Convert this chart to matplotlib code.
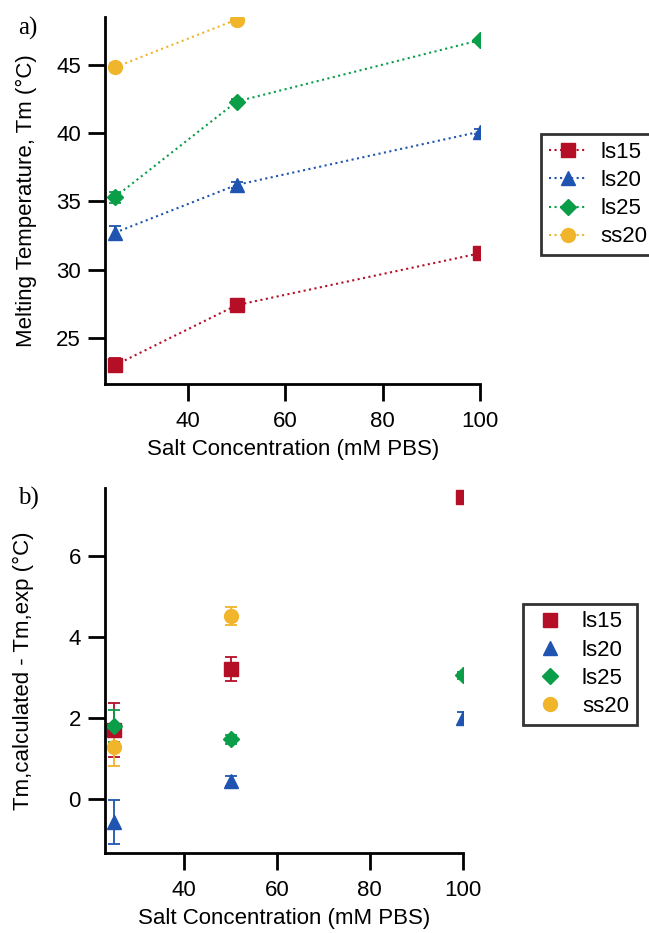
import numpy as np
import matplotlib.pyplot as plt
from matplotlib.lines import Line2D

plt.rcParams['font.family'] = ['Liberation Sans', 'DejaVu Sans']

# ---- data ----
salt = [25, 50, 100]
names = ['ls15', 'ls20', 'ls25', 'ss20']
colors = ['#b50f27', '#1f55b0', '#0a9e48', '#f0b52a']
markers = ['s', '^', 'D', 'o']

# panel a: melting temperature
tm_ls15 = [23.0, 27.4, 31.2]
tm_ls20 = [32.7, 36.2, 40.1]
tm_ls25 = [35.3, 42.3, 46.8]
tm_ss20 = [44.8, 48.3]
tm_err_ls15 = [0.5, 0.2, 0.2]
tm_err_ls20 = [0.5, 0.2, 0.2]
tm_err_ls25 = [0.4, 0.2, 0.1]
tm_err_ss20 = [0.3, 0.1]

# panel b: Tm,calc - Tm,exp
d_ls15 = [1.7, 3.2, 7.45]
d_ls20 = [-0.57, 0.45, 2.0]
d_ls25 = [1.8, 1.47, 3.05]
d_ss20 = [1.27, 4.52]
d_err_ls15 = [0.67, 0.3, 0.15]
d_err_ls20 = [0.55, 0.12, 0.15]
d_err_ls25 = [0.4, 0.12, 0.08]
d_err_ss20 = [0.45, 0.22]

tm = [tm_ls15, tm_ls20, tm_ls25, tm_ss20]
tm_err = [tm_err_ls15, tm_err_ls20, tm_err_ls25, tm_err_ss20]
dd = [d_ls15, d_ls20, d_ls25, d_ss20]
dd_err = [d_err_ls15, d_err_ls20, d_err_ls25, d_err_ss20]

fig = plt.figure(figsize=(6.49, 9.33), dpi=100)
ax1 = fig.add_axes([0.162, 0.588, 0.578, 0.394])
ax2 = fig.add_axes([0.162, 0.086, 0.551, 0.391])

msizes = [9.5, 10, 8.5, 10]

handles_a = []
handles_b = []
for i in range(4):
    y = tm[i]
    x = salt[:len(y)]
    ax1.errorbar(x, y, yerr=tm_err[i], color=colors[i], marker=markers[i],
                 markersize=msizes[i], linestyle=':', linewidth=1.5,
                 capsize=4.3, elinewidth=1.3, capthick=1.3)
    handles_a.append(Line2D([], [], color=colors[i], marker=markers[i],
                            markersize=msizes[i], linestyle=':', linewidth=1.5,
                            label=names[i]))
    y = dd[i]
    x = salt[:len(y)]
    ax2.errorbar(x, y, yerr=dd_err[i], color=colors[i], marker=markers[i],
                 markersize=msizes[i], linestyle='none',
                 capsize=4.3, elinewidth=1.3, capthick=1.3)
    handles_b.append(Line2D([], [], color=colors[i], marker=markers[i],
                            markersize=msizes[i], linestyle='none',
                            label=names[i]))

for ax in (ax1, ax2):
    ax.spines['top'].set_visible(False)
    ax.spines['right'].set_visible(False)
    ax.spines['left'].set_linewidth(2)
    ax.spines['bottom'].set_linewidth(2)
    ax.tick_params(direction='out', length=12.5, width=2, labelsize=16, pad=5)
    ax.tick_params(axis='x', pad=7)
    ax.set_xticks([40, 60, 80, 100])
    ax.set_xlabel('Salt Concentration (mM PBS)', fontsize=16, labelpad=5)

ax1.set_xlim(23, 100)
ax1.set_ylim(21.6, 48.5)
ax1.set_yticks([25, 30, 35, 40, 45])
ax1.set_ylabel('Melting Temperature, Tm (\u00b0C)', fontsize=16, labelpad=14)

ax2.set_xlim(23, 100)
ax2.set_ylim(-1.33, 7.68)
ax2.set_yticks([0, 2, 4, 6])
ax2.set_ylabel('Tm,calculated - Tm,exp (\u00b0C)', fontsize=16, labelpad=25)

leg1 = fig.legend(handles=handles_a, loc='upper left',
                  bbox_to_anchor=(0.834, 0.856), fontsize=16,
                  frameon=True, fancybox=False, edgecolor='black',
                  handlelength=1.7, borderpad=0.35, labelspacing=0.32,
                  handletextpad=0.6, borderaxespad=0)
leg1.get_frame().set_linewidth(2)
leg2 = fig.legend(handles=handles_b, loc='upper left',
                  bbox_to_anchor=(0.806, 0.353), fontsize=16,
                  frameon=True, fancybox=False, edgecolor='black',
                  handlelength=1.7, borderpad=0.35, labelspacing=0.32,
                  handletextpad=0.6, borderaxespad=0)
leg2.get_frame().set_linewidth(2)

fig.text(0.028, 0.982, 'a)', fontsize=18, family=['Liberation Serif'], va='top')
fig.text(0.028, 0.478, 'b)', fontsize=18, family=['Liberation Serif'], va='top')

fig.savefig('out.png', dpi=100)
